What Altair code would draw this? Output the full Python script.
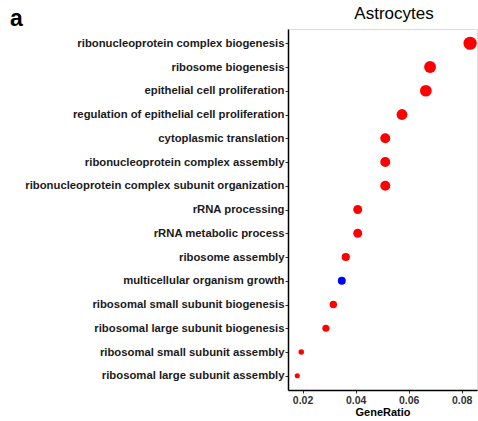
import altair as alt
import pandas as pd

# GO enrichment terms (top to bottom) and their gene ratios
terms = [
    "ribonucleoprotein complex biogenesis",
    "ribosome biogenesis",
    "epithelial cell proliferation",
    "regulation of epithelial cell proliferation",
    "cytoplasmic translation",
    "ribonucleoprotein complex assembly",
    "ribonucleoprotein complex subunit organization",
    "rRNA processing",
    "rRNA metabolic process",
    "ribosome assembly",
    "multicellular organism growth",
    "ribosomal small subunit biogenesis",
    "ribosomal large subunit biogenesis",
    "ribosomal small subunit assembly",
    "ribosomal large subunit assembly",
]
gene_ratio = [0.0832, 0.0681, 0.0665, 0.0575, 0.0512, 0.0512, 0.0512,
              0.0408, 0.0408, 0.0363, 0.0348, 0.0316, 0.0288, 0.0195, 0.0180]
gene_count = [46, 38, 37, 32, 28, 28, 28, 23, 23, 20, 19, 17, 16, 11, 10]
significance = ["low", "low", "low", "low", "low", "low", "low",
                "low", "low", "low", "high", "low", "low", "low", "low"]

df = pd.DataFrame({
    "term": terms,
    "GeneRatio": gene_ratio,
    "Count": gene_count,
    "padj": significance,
})

label_font = "Liberation Sans"

points = alt.Chart(df).mark_circle(opacity=1).encode(
    x=alt.X(
        "GeneRatio:Q",
        scale=alt.Scale(domain=[0.0145, 0.0858], nice=False, zero=False),
        axis=alt.Axis(
            values=[0.02, 0.04, 0.06, 0.08], format=".2f", grid=False,
            title="GeneRatio", titleFont=label_font, titleFontSize=11,
            titleFontWeight="bold", titleColor="black", titlePadding=1,
            labelFont=label_font, labelFontSize=10.5, labelFontWeight="bold",
            labelColor="#333333", labelPadding=2, tickSize=3,
            tickColor="#333333", domainColor="black", domainWidth=1.5,
        ),
    ),
    y=alt.Y(
        "term:N", sort=terms,
        scale=alt.Scale(type="point", padding=0.6),
        axis=alt.Axis(
            grid=False, title=None, labelFont=label_font, labelFontSize=11.3,
            labelFontWeight="bold", labelColor="#1a1a1a", labelPadding=1,
            tickSize=3, tickColor="#333333", domainColor="black",
            domainWidth=1.5, labelLimit=400,
        ),
    ),
    size=alt.Size("Count:Q", scale=alt.Scale(domain=[10, 46], range=[26, 175]),
                  legend=None),
    color=alt.Color("padj:N",
                    scale=alt.Scale(domain=["low", "high"], range=["#FF0000", "#0000FF"]),
                    legend=None),
)

# panel tag and panel title as text layers
tag = alt.Chart(pd.DataFrame({"t": ["a"]})).mark_text(
    font=label_font, fontSize=23, fontWeight="bold", align="left",
    baseline="alphabetic", color="black",
).encode(text="t:N", x=alt.value(-278), y=alt.value(-3))

title = alt.Chart(pd.DataFrame({"t": ["Astrocytes"]})).mark_text(
    font=label_font, fontSize=17, fontWeight="normal", align="center",
    baseline="alphabetic", color="black",
).encode(text="t:N", x=alt.value(106), y=alt.value(-10))

chart = alt.layer(points, tag, title).properties(
    width=189,
    height=361,
    autosize=alt.AutoSizeParams(type="none"),
    padding={"left": 288, "top": 29, "right": 1, "bottom": 31},
).configure_view(stroke=None).configure(background="white")

chart.save("out.html", embed_options={"renderer": "svg", "actions": False})
